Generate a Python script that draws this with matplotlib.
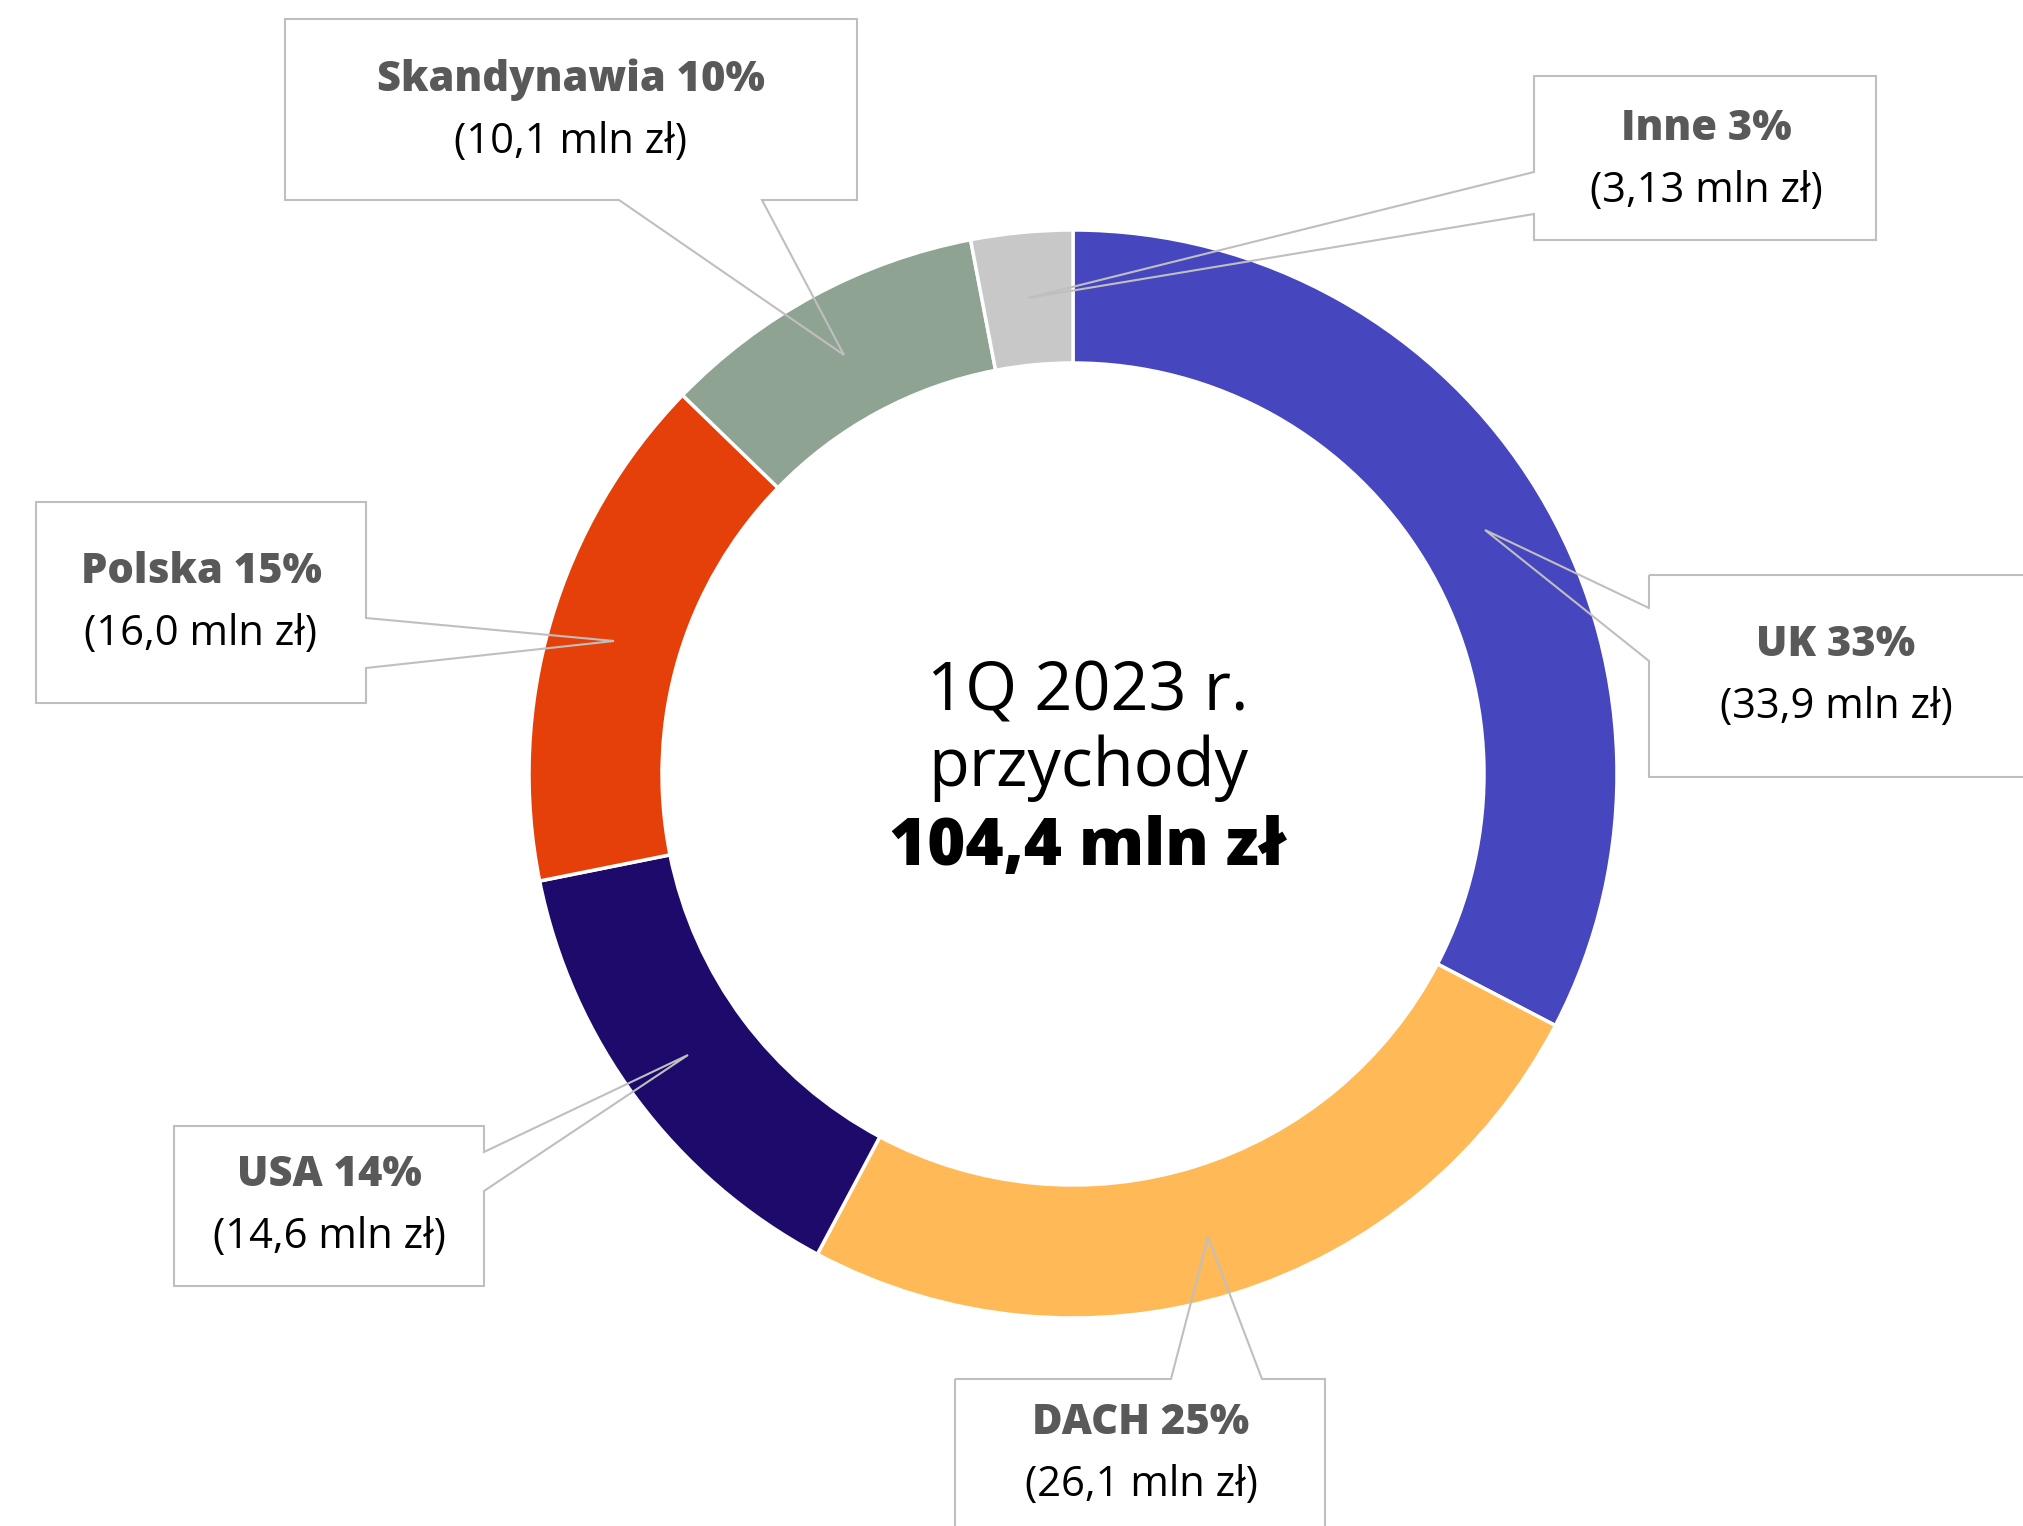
import matplotlib.pyplot as plt
from matplotlib.patches import Polygon

plt.rcParams['font.family'] = ['Open Sans', 'DejaVu Sans']

# Dane: przychody 1Q 2023 wg regionu (mln zł)
regiony = ['UK', 'DACH', 'USA', 'Polska', 'Skandynawia', 'Inne']
przychody = [33.9, 26.1, 14.6, 16.0, 10.1, 3.13]
udzialy = [33, 25, 14, 15, 10, 3]  # % podane na wykresie
kolory = ['#4646BE', '#FFB957', '#1E0A6B', '#E6400A', '#8FA393', '#C8C8C8']
suma = 104.4

W, H = 2023, 1526

fig = plt.figure(figsize=(W / 100, H / 100), dpi=100)
ax = fig.add_axes([0, 0, 1, 1])

cx, cy, r_out = 1073, H - 774, 544
ax.pie(przychody, colors=kolory, startangle=90, counterclock=False,
       radius=r_out, center=(cx, cy),
       wedgeprops=dict(width=133, edgecolor='white', linewidth=2.5))

ax.set_xlim(0, W)
ax.set_ylim(0, H)
ax.set_aspect('equal')
ax.axis('off')

# Tekst w srodku
ax.text(1088, H - 693, '1Q 2023 r.', ha='center', va='center', fontsize=48, color='black')
ax.text(1088, H - 768, 'przychody', ha='center', va='center', fontsize=48, color='black')
ax.text(1088, H - 848, f'{suma:.1f}'.replace('.', ',') + ' mln zł', ha='center', va='center',
        fontsize=47, fontweight='heavy', color='black')

# Dymki: (x0, y0, x1, y1), bok z ogonkiem, podstawa ogonka, czubek
dymki = {
    'UK': ((1649, 575, 2060, 777), 'left', (608, 661), (1485, 530)),
    'DACH': ((955, 1379, 1325, 1560), 'top', (1171, 1262), (1208, 1237)),
    'USA': ((174, 1126, 484, 1286), 'right', (1152, 1191), (688, 1055)),
    'Polska': ((36, 502, 366, 703), 'right', (618, 668), (614, 641)),
    'Skandynawia': ((285, 19, 857, 200), 'bottom', (619, 762), (844, 355)),
    'Inne': ((1534, 76, 1876, 240), 'left', (172, 214), (1028, 298)),
}
srodki_tekstu = {
    'UK': (1836, 645),
    'DACH': (1141, 1423),
    'USA': (329, 1175),
    'Polska': (201, 572),
    'Skandynawia': (571, 80),
    'Inne': (1706, 129),
}


def ksztalt(box, bok, baza, tip):
    x0, y0, x1, y1 = box
    a, b = baza
    if bok == 'left':
        pts = [(x0, y0), (x1, y0), (x1, y1), (x0, y1), (x0, b), tip, (x0, a)]
    elif bok == 'right':
        pts = [(x0, y0), (x1, y0), (x1, a), tip, (x1, b), (x1, y1), (x0, y1)]
    elif bok == 'top':
        pts = [(x0, y0), (a, y0), tip, (b, y0), (x1, y0), (x1, y1), (x0, y1)]
    else:
        pts = [(x0, y0), (x1, y0), (x1, y1), (b, y1), tip, (a, y1), (x0, y1)]
    return [(x, H - y) for x, y in pts]


for nazwa, wartosc, proc in zip(regiony, przychody, udzialy):
    box, bok, baza, tip = dymki[nazwa]
    ax.add_patch(Polygon(ksztalt(box, bok, baza, tip), closed=True, fill=False,
                         edgecolor='#BFBFBF', linewidth=1.5, zorder=5))
    tx, ty = srodki_tekstu[nazwa]
    if round(wartosc, 1) == wartosc:
        wtxt = f'{wartosc:.1f}'
    else:
        wtxt = f'{wartosc:.2f}'
    ax.text(tx, H - ty, f'{nazwa} {proc}%', ha='center', va='center', fontsize=30,
            fontweight='heavy', color='#595959', zorder=6)
    ax.text(tx, H - ty - 62, '(' + wtxt.replace('.', ',') + ' mln zł)', ha='center',
            va='center', fontsize=30, color='black', zorder=6)

fig.savefig('out.png', dpi=100, facecolor='white')
